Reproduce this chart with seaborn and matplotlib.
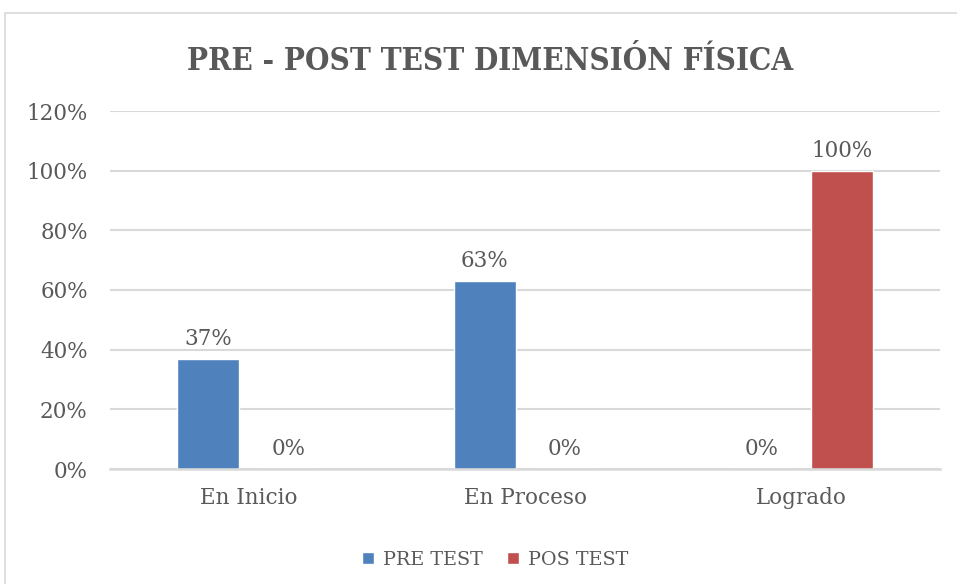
import matplotlib
matplotlib.use("Agg")
import matplotlib.pyplot as plt
import matplotlib.patches as mpatches
from matplotlib.ticker import PercentFormatter
import pandas as pd
import seaborn as sns

# datos
categorias = ["En Inicio", "En Proceso", "Logrado"]
series = ["PRE TEST", "POS TEST"]
pre_test = [0.37, 0.63, 0.0]
pos_test = [0.0, 0.0, 1.0]
yticks = [0, 0.2, 0.4, 0.6, 0.8, 1.0, 1.2]
titulo = "PRE - POST TEST DIMENSIÓN FÍSICA"

colores = ["#4F81BD", "#C0504D"]
gris = "#595959"
linea = "#D9D9D9"

sns.set_theme(style="white")
plt.rcParams['font.family'] = ['DejaVu Serif']

df = pd.DataFrame({
    "categoria": categorias * 2,
    "valor": pre_test + pos_test,
    "serie": [series[0]] * len(categorias) + [series[1]] * len(categorias),
})

fig = plt.figure(figsize=(9.57, 5.84), dpi=100)
ax = fig.add_axes([110 / 957, 1 - 469 / 584, 830 / 957, 358 / 584])

sns.barplot(data=df, x="categoria", y="valor", hue="serie", palette=colores,
            width=0.58, gap=0.23, saturation=1, errorbar=None, ax=ax)

for cont in ax.containers:
    ax.bar_label(cont, labels=[f"{b.get_height() * 100:.0f}%" for b in cont],
                 padding=6.5, fontsize=15.5, color=gris)

ax.set_xlim(-0.5, 2.5)
ax.set_ylim(0, 1.2)
ax.set_yticks(yticks)
ax.yaxis.set_major_formatter(PercentFormatter(1.0, decimals=0))
ax.yaxis.grid(True, color=linea, lw=1.5)
ax.set_axisbelow(True)
for s in ["top", "right", "left"]:
    ax.spines[s].set_visible(False)
ax.spines["bottom"].set_color(linea)
ax.spines["bottom"].set_linewidth(1.8)
ax.tick_params(axis="both", length=0, labelsize=15.5, colors=gris)
ax.tick_params(axis="y", pad=16)
ax.tick_params(axis="x", pad=13)
ax.set_xlabel("")
ax.set_ylabel("")

handles, labels = ax.get_legend_handles_labels()
ax.get_legend().remove()
fig.legend(handles, labels, loc="center", bbox_to_anchor=(495 / 957, 1 - 560 / 584),
           ncol=2, frameon=False, fontsize=13.8, labelcolor=gris,
           handlelength=0.62, handleheight=0.62, handletextpad=0.45, columnspacing=1.3)

fig.text(490 / 957, 1 - 70 / 584, titulo, ha="center", va="baseline",
         fontsize=22.5, fontweight="bold", fontstretch="condensed", color=gris)

# marco del area del grafico
fig.patches.append(mpatches.Rectangle((4.5 / 957, -0.1), 1.2, 1.1 - 13.5 / 584,
                                      transform=fig.transFigure, fill=False,
                                      edgecolor=linea, lw=1.2))

fig.savefig("out.png", dpi=100)
